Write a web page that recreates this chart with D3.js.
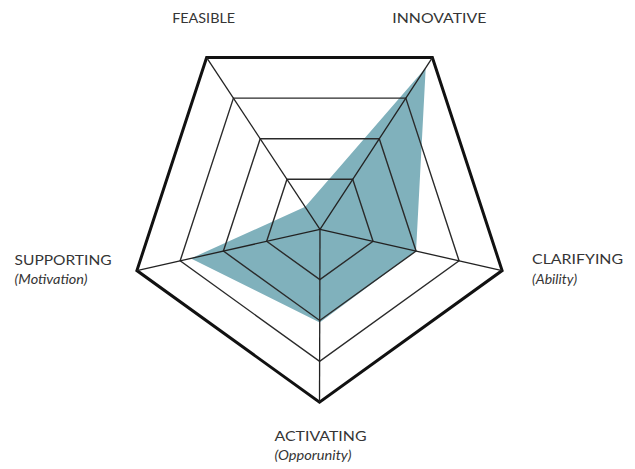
<!DOCTYPE html>
<html>
<head>
<meta charset="utf-8">
<script src="https://cdn.jsdelivr.net/npm/d3@7"></script>
<style>
  html, body { margin: 0; padding: 0; background: #fff; }
  svg { display: block; }
</style>
</head>
<body>
<svg id="chart" width="635" height="469"></svg>
<script>
// ---- data ----
const axes = ["FEASIBLE", "INNOVATIVE", "CLARIFYING", "ACTIVATING", "SUPPORTING"];
const subtitles = ["", "", "(Ability)", "(Opporunity)", "(Motivation)"];
const values = [0.32, 3.75, 2.0, 2.05, 2.75];
const levels = [1, 2, 3, 4];

// ---- layout ----
const cx = 319.5, cy = 211.7, rx = 192, ry = 190.5;   // outer pentagon
const hub = [320, 229.3];                              // where spokes meet
const angle = d3.scaleLinear().domain([0, axes.length]).range([-Math.PI / 5, 2 * Math.PI - Math.PI / 5]);
const r = d3.scaleLinear().domain([0, 4]).range([0.055, 1]);

const outer = axes.map((a, i) => {
  const t = angle(i);
  return [cx + rx * Math.sin(t), cy - ry * Math.cos(t)];
});
function pt(i, v) {
  const f = r(v);
  return [hub[0] + f * (outer[i][0] - hub[0]), hub[1] + f * (outer[i][1] - hub[1])];
}

const svg = d3.select("#chart");
const line = d3.line().curve(d3.curveLinearClosed);

// area
svg.append("path")
  .attr("d", line(values.map((v, i) => pt(i, v))))
  .attr("fill", "#80b1bc")
  .attr("stroke", "none");

// rings
svg.append("g").selectAll("path").data(levels).join("path")
  .attr("d", l => line(axes.map((a, i) => pt(i, l))))
  .attr("fill", "none")
  .attr("stroke", l => l === 4 ? "#111" : "#2a2a2a")
  .attr("stroke-width", l => l === 4 ? 3 : 1.4)
  .attr("stroke-linejoin", "miter");

// spokes
svg.append("g").selectAll("line").data(axes).join("line")
  .attr("x1", hub[0]).attr("y1", hub[1])
  .attr("x2", (a, i) => outer[i][0]).attr("y2", (a, i) => outer[i][1])
  .attr("stroke", "#222").attr("stroke-width", 1.3);

// labels (offsets from outer vertex, and target text widths)
const labelOffsets = [[-34.5, -34.5], [-40, -34.5], [30, -6.5], [-45, 38.7], [-122.3, -6]];
const labelWidths = [63, 94, 91, 92, 97];
const subWidths = [0, 0, 45, 77, 73];
const lab = svg.append("g").attr("font-family", "Lato, 'Open Sans', sans-serif").attr("fill", "#353535");
axes.forEach((a, i) => {
  const x = outer[i][0] + labelOffsets[i][0];
  const y = outer[i][1] + labelOffsets[i][1];
  lab.append("text").attr("x", x).attr("y", y)
    .attr("font-size", 14)
    .attr("textLength", labelWidths[i]).attr("lengthAdjust", "spacingAndGlyphs")
    .text(a);
  if (subtitles[i]) {
    lab.append("text").attr("x", x).attr("y", y + 19.5)
      .attr("font-size", 13.5).attr("font-style", "italic")
      .attr("textLength", subWidths[i]).attr("lengthAdjust", "spacingAndGlyphs")
      .text(subtitles[i]);
  }
});
</script>
</body>
</html>
